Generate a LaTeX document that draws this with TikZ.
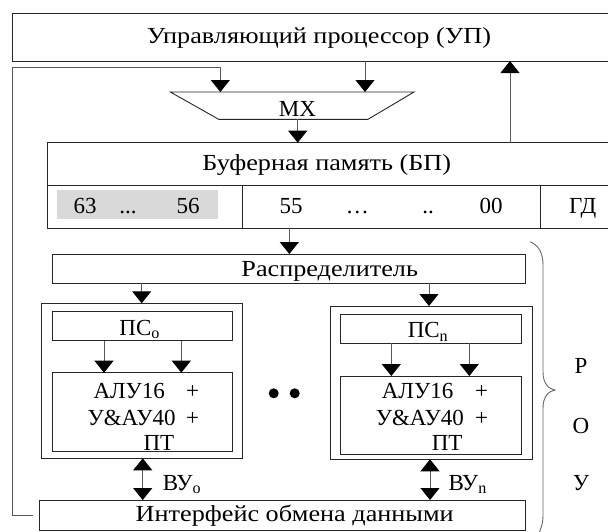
\documentclass[tikz,border=0pt]{standalone}
\usepackage{fontspec}
\setmainfont{Liberation Serif}
\newfontfamily\widefont[FakeStretch=1.14]{Liberation Serif}
\usetikzlibrary{arrows.meta}
\begin{document}
\begin{tikzpicture}[x=1pt,y=-1pt,
  box/.style={draw=black!85, line width=0.9pt, inner sep=0pt, outer sep=0pt},
  arr/.style={draw=black!65, line width=0.9pt, -{Triangle[width=19pt,length=12pt,color=black]}},
  darr/.style={draw=black!65, line width=0.9pt, {Triangle[width=19pt,length=12pt,color=black]}-{Triangle[width=19pt,length=12pt,color=black]}},
  txt/.style={font=\fontsize{23}{27}\selectfont, inner sep=0pt, anchor=base},
  wtxt/.style={font=\widefont\fontsize{23}{27}\selectfont, inner sep=0pt, anchor=base},
  txtw/.style={txt, anchor=base west},
  dot/.style={fill=black, circle, inner sep=0pt, minimum size=10pt}]
\useasboundingbox (0,0) rectangle (608,531);
% Control processor
\node[box, minimum width=613.7pt, minimum height=47.7pt] (up) at (319.15,37.15) {};
\node[wtxt] (uptxt) at (319,43.3) {Управляющий процессор (УП)};
% MX trapezoid
\coordinate (mxtl) at (170.3,92);
\coordinate (mxtr) at (414,92);
\coordinate (mxbr) at (368,119.3);
\coordinate (mxbl) at (218.7,119.3);
\draw[black!85, line width=0.9pt] (mxtl) -- (mxtr) -- (mxbr) -- (mxbl) -- cycle;
\node[txt] (mx) at (297.5,116.7) {МХ};
\coordinate (mxin1) at (220.3,92);
\coordinate (mxin2) at (365,92);
\coordinate (mxout) at (297.7,119.3);
% Buffer memory
\node[fill=black!15, inner sep=0pt, minimum width=160.4pt, minimum height=29.3pt] (gray) at (137.5,204.65) {};
\node[box, minimum width=578.7pt, minimum height=42.6pt] (bptop) at (336.65,164) {};
\node[wtxt] (bptxt) at (326.7,170) {Буферная память (БП)};
\node[box, minimum width=195.4pt, minimum height=42.7pt] (cell1) at (145,206.65) {};
\node[box, minimum width=297.6pt, minimum height=42.7pt] (cell2) at (391.5,206.65) {};
\node[box, minimum width=85.7pt, minimum height=42.7pt] (cell3) at (583.15,206.65) {};
\node[txt] (b63) at (85,213.3) {63};
\node[txt] (bd1) at (128,213.3) {...};
\node[txt] (b56) at (188,213.3) {56};
\node[txt] (b55) at (291,213.3) {55};
\node[txt] (bd2) at (357.3,213.3) {…};
\node[txt] (bd3) at (428,213.3) {..};
\node[txt] (b00) at (491,213.3) {00};
\node[txt] (gd) at (582.7,213.3) {ГД};
% Distributor
\node[box, minimum width=472.3pt, minimum height=29.3pt] (dist) at (288.85,268.65) {};
\node[wtxt] (disttxt) at (329.7,276.7) {Распределитель};
% Group 0
\node[box, minimum width=201pt, minimum height=155pt] (grp0) at (142.2,380.8) {};
\node[box, minimum width=180.4pt, minimum height=29.7pt] (pc0) at (142.5,325.85) {};
\node[txt] (pc0txt) at (139.7,335) {ПС\textsubscript{о}};
\node[box, minimum width=180.4pt, minimum height=79pt] (alu0) at (142.5,412.2) {};
\node[txtw] (a0l1) at (93.3,398.3) {АЛУ16};
\node[txt] (a0p1) at (192.7,398.3) {+};
\node[txtw] (a0l2) at (87.3,425) {У\&АУ40};
\node[txt] (a0p2) at (192.7,425) {+};
\node[txtw] (a0l3) at (143.3,450) {ПТ};
% Group n
\node[box, minimum width=201.3pt, minimum height=153.3pt] (grpn) at (431.35,382.65) {};
\node[box, minimum width=181pt, minimum height=29pt] (pcn) at (430.5,328.8) {};
\node[txt] (pcntxt) at (428,337.5) {ПС\textsubscript{n}};
\node[box, minimum width=181pt, minimum height=78.3pt] (alun) at (430.5,415.15) {};
\node[txtw] (anl1) at (381.6,398.3) {АЛУ16};
\node[txt] (anp1) at (481.7,398.3) {+};
\node[txtw] (anl2) at (375.6,425) {У\&АУ40};
\node[txt] (anp2) at (481.7,425) {+};
\node[txtw] (anl3) at (431.6,450) {ПТ};
% dots
\node[dot] (dotA) at (273.7,393.3) {};
\node[dot] (dotB) at (294.7,393.3) {};
% Interface
\node[box, minimum width=486pt, minimum height=30pt] (ifc) at (282.3,515) {};
\node[wtxt] (ifctxt) at (294.7,521.7) {Интерфейс обмена данными};
\node[txtw] (vu0) at (162.7,490) {ВУ\textsubscript{о}};
\node[txtw] (vun) at (448.3,490) {ВУ\textsubscript{n}};
% ROU
\node[txt] (rR) at (581,373.3) {Р};
\node[txt] (rO) at (581,433.3) {О};
\node[txt] (rU) at (581,490) {У};
% connectors
\coordinate (fbtop) at (12.7,67.7);
\draw[arr] ([xshift=-6pt]ifc.west) -- (fbtop |- ifc.west) -- (fbtop) -- (fbtop -| mxin1) -- (mxin1);
\draw[arr] (up.south -| mxin2) -- (mxin2);
\draw[arr] (mxout) -- (bptop.north -| mxout);
\coordinate (upx) at (510,100);
\draw[arr] (bptop.north -| upx) -- (up.south -| upx);
\coordinate (bpx) at (289.3,240);
\draw[arr] (cell2.south -| bpx) -- (dist.north -| bpx);
\coordinate (d0x) at (141.7,290);
\draw[arr] (dist.south -| d0x) -- (grp0.north -| d0x);
\coordinate (dnx) at (429,290);
\draw[arr] (dist.south -| dnx) -- (grpn.north -| dnx);
\coordinate (p0a) at (104,350);
\coordinate (p0b) at (181.3,350);
\draw[arr] (pc0.south -| p0a) -- (alu0.north -| p0a);
\draw[arr] (pc0.south -| p0b) -- (alu0.north -| p0b);
\coordinate (pna) at (391.3,350);
\coordinate (pnb) at (469.3,350);
\draw[arr] (pcn.south -| pna) -- (alun.north -| pna);
\draw[arr] (pcn.south -| pnb) -- (alun.north -| pnb);
\coordinate (v0x) at (142.7,480);
\draw[darr] (grp0.south -| v0x) -- (ifc.north -| v0x);
\coordinate (vnx) at (430,480);
\draw[darr] (grpn.south -| vnx) -- (ifc.north -| vnx);
% brace
\draw[black!60, line width=0.9pt] (530,241.7) .. controls (538,245) and (543,252) .. (543,265) -- (543,372) .. controls (543,384) and (549,389) .. (555,390) .. controls (549,391) and (543,396) .. (543,408) -- (543,515) .. controls (543,524) and (541,529) .. (538,535);
\end{tikzpicture}
\end{document}
